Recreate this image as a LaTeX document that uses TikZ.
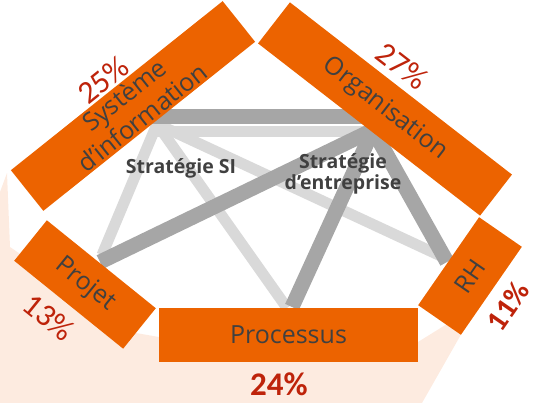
\documentclass[tikz,border=0pt]{standalone}
\usepackage{fontspec}
\setmainfont{Open Sans}
\newfontfamily\pctfont{Carlito}
\usepackage{tikz}

\definecolor{boxorange}{RGB}{236,99,0}
\definecolor{bgpink}{RGB}{253,235,224}
\definecolor{linedark}{RGB}{166,166,166}
\definecolor{linelight}{RGB}{217,217,217}
\definecolor{textgray}{RGB}{64,64,64}
\definecolor{pctred}{RGB}{190,35,10}

\begin{document}
\begin{tikzpicture}[x=1pt,y=-1pt,
        box/.style={fill=boxorange, inner sep=0pt, outer sep=0pt, minimum height=52pt,
            text=textgray, align=center, font=\fontsize{25}{29}\selectfont},
        pct/.style={text=pctred, inner sep=0pt, font=\pctfont\fontsize{32}{32}\selectfont},
        hubtext/.style={text=textgray, align=center, inner sep=0pt,
            font=\bfseries\fontsize{19.5}{21}\selectfont},
        darkline/.style={draw=linedark, line width=15pt},
        lightline/.style={draw=linelight, line width=11pt}]
        \useasboundingbox (0,0) rectangle (536,403);

        % background
        \fill[bgpink] (7,173) -- (0,192) -- (0,403) -- (422,403) -- (467,324)
            -- (455,319) -- (418,342) -- (159,337) -- (136,333) -- (70,288)
            -- (10,247) -- cycle;

        \coordinate (si) at (157,124);
        \coordinate (ent) at (373,130);

        % Strategie SI
        \coordinate (siW) at (150,132);
        \coordinate (siE) at (370,132);
        \coordinate (siPj) at (102,255);
        \coordinate (siPr) at (287,308);
        \coordinate (siRh) at (443,257);
        \draw[lightline] (siW) -- (siE);
        \draw[lightline] (si) -- (siPj);
        \draw[lightline] (si) -- (siPr);
        \draw[lightline] (si) -- (siRh);

        % Strategie d'entreprise
        \coordinate (entW) at (150,117);
        \coordinate (entE) at (378,117);
        \coordinate (entPj) at (100,262);
        \coordinate (entPr) at (292,307);
        \coordinate (entRh) at (447,262);
        \draw[darkline] (entW) -- (entE);
        \draw[darkline] (ent) -- (entPj);
        \draw[darkline] (ent) -- (entPr);
        \draw[darkline] (ent) -- (entRh);

        \node[hubtext] (strsi) at (181,168) {Stratégie SI};
        \node[hubtext] (strent) at (343,174) {Stratégie\\d’entreprise};

        \node[box, minimum width=271pt, rotate=38.6] (sysinfo) at (133,106) {Système\\d’information};
        \node[box, minimum width=281pt, rotate=-37.8] (orga) at (385,109) {Organisation};
        \node[box, minimum width=140pt, rotate=-38.9] (projet) at (85,284.5) {Projet};
        \node[box, minimum width=259pt, minimum height=54pt] (processus) at (288.5,335) {Processus};
        \node[box, minimum width=107pt, rotate=55.3] (rh) at (470,276) {RH};

        \node[pct, rotate=38.6] (p25) at (103,80) {25\%};
        \node[pct, rotate=-37.8] (p27) at (402,66) {27\%};
        \node[pct, rotate=-38.9] (p13) at (49,317) {13\%};
        \node[pct, rotate=55.3, font=\pctfont\bfseries\fontsize{30}{30}\selectfont] (p11) at (508,306) {11\%};
        \node[pct, font=\pctfont\bfseries\fontsize{33}{33}\selectfont] (p24) at (279,384) {24\%};
    \end{tikzpicture}
\end{document}
